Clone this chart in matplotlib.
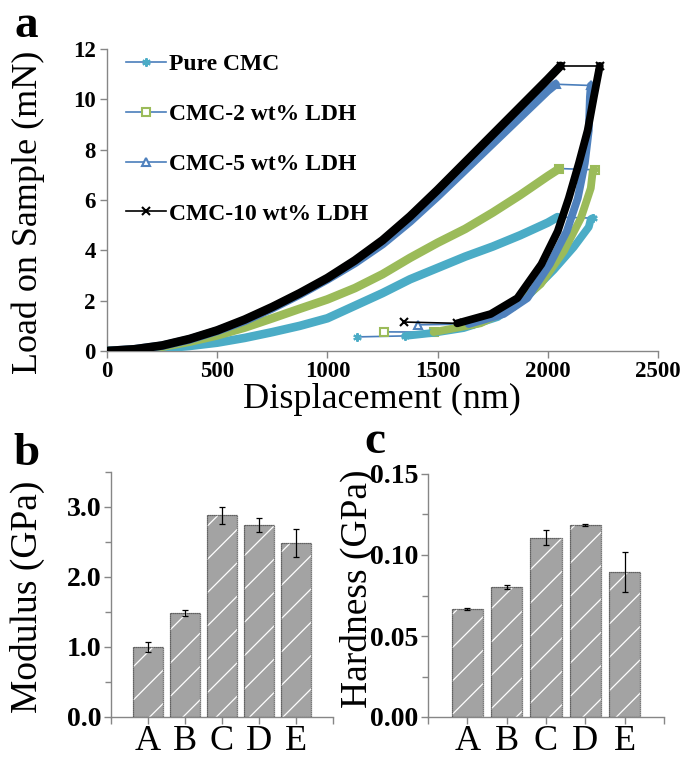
import matplotlib
matplotlib.use("Agg")
import matplotlib.pyplot as plt
from matplotlib.lines import Line2D
from matplotlib.ticker import MultipleLocator

plt.rcParams['font.family'] = ['Liberation Serif', 'DejaVu Serif']
plt.rcParams['hatch.linewidth'] = 0.9

# ---- panel a: load / displacement curves (nm, mN) ----
pure_load_x = [0, 125, 250, 375, 500, 625, 750, 875, 1000, 1125, 1250, 1375, 1500, 1625, 1750, 1875, 2000, 2044]
pure_load_y = [0, 0.03, 0.1, 0.2, 0.33, 0.52, 0.75, 1.0, 1.3, 1.8, 2.3, 2.85, 3.3, 3.75, 4.15, 4.6, 5.1, 5.32]
pure_unload_x = [2204, 2195, 2186, 2118, 2027, 1923, 1773, 1618, 1480, 1354]
pure_unload_y = [5.28, 5.24, 4.93, 4.13, 3.22, 2.3, 1.35, 0.91, 0.72, 0.6]
pure_tail_x = [1354, 1134]
pure_tail_y = [0.6, 0.56]

ldh2_load_x = [0, 125, 250, 375, 500, 625, 750, 875, 1000, 1125, 1250, 1375, 1500, 1625, 1750, 1875, 2000, 2053]
ldh2_load_y = [0, 0.05, 0.17, 0.37, 0.62, 0.93, 1.3, 1.68, 2.05, 2.5, 3.05, 3.7, 4.3, 4.85, 5.5, 6.2, 6.95, 7.25]
ldh2_unload_x = [2213, 2204, 2195, 2150, 2073, 1968, 1845, 1695, 1482]
ldh2_unload_y = [7.2, 7.15, 6.47, 5.28, 3.97, 2.66, 1.75, 1.1, 0.75]
ldh2_tail_x = [1482, 1257]
ldh2_tail_y = [0.75, 0.76]

ldh5_load_x = [0, 125, 250, 375, 500, 625, 750, 875, 1000, 1125, 1250, 1375, 1500, 1625, 1750, 1875, 2000, 2035]
ldh5_load_y = [0, 0.07, 0.21, 0.46, 0.8, 1.2, 1.7, 2.25, 2.85, 3.5, 4.25, 5.15, 6.15, 7.2, 8.25, 9.3, 10.35, 10.6]
ldh5_unload_x = [2195, 2191, 2186, 2168, 2136, 2086, 2009, 1907, 1800, 1641]
ldh5_unload_y = [10.55, 10.1, 8.77, 7.46, 6.07, 4.76, 3.45, 2.1, 1.47, 1.07]
ldh5_tail_x = [1641, 1413]
ldh5_tail_y = [1.07, 1.04]

ldh10_load_x = [0, 125, 250, 375, 500, 625, 750, 875, 1000, 1125, 1250, 1375, 1500, 1625, 1750, 1875, 2000, 2058]
ldh10_load_y = [0, 0.07, 0.22, 0.48, 0.82, 1.25, 1.75, 2.3, 2.9, 3.6, 4.4, 5.35, 6.4, 7.5, 8.6, 9.7, 10.8, 11.33]
ldh10_unload_x = [2236, 2209, 2181, 2141, 2095, 2045, 1971, 1862, 1741, 1589]
ldh10_unload_y = [11.33, 10.1, 8.77, 7.46, 6.07, 4.76, 3.45, 2.1, 1.47, 1.1]
ldh10_tail_x = [1589, 1349]
ldh10_tail_y = [1.1, 1.15]

series_labels = ["Pure CMC", "CMC-2 wt% LDH", "CMC-5 wt% LDH", "CMC-10 wt% LDH"]

# ---- panels b, c: bar data ----
samples = ["A", "B", "C", "D", "E"]
modulus = [1.0, 1.49, 2.88, 2.75, 2.48]
modulus_err = [0.07, 0.045, 0.12, 0.1, 0.2]
hardness = [0.0667, 0.0805, 0.1107, 0.1185, 0.0895]
hardness_err = [0.0005, 0.0012, 0.0046, 0.0005, 0.0123]

AXIS_GRAY = "#868686"
LINE_BLUE = "#4a7ebb"
C_PURE = "#4bacc6"
C_LDH2 = "#9bbb59"
C_LDH5 = "#4f81bd"
C_LDH10 = "#000000"

fig = plt.figure(figsize=(6.8, 7.58), dpi=100)
W, H = 680.0, 758.0


def px_axes(left, top, right, bottom):
    return fig.add_axes([left / W, 1 - bottom / H, (right - left) / W, (bottom - top) / H])


def style_axes(ax):
    for side in ("top", "right"):
        ax.spines[side].set_visible(False)
    for side in ("left", "bottom"):
        ax.spines[side].set_color(AXIS_GRAY)
        ax.spines[side].set_linewidth(1.0)
    ax.tick_params(which="both", direction="out", color=AXIS_GRAY, width=1.0)
    ax.tick_params(which="major", length=5)
    ax.tick_params(which="minor", length=4)


# ------------------------------ panel a
ax_a = px_axes(107, 49, 658, 351)
style_axes(ax_a)

curves = [
    (pure_load_x, pure_load_y, pure_unload_x, pure_unload_y, pure_tail_x, pure_tail_y, C_PURE, LINE_BLUE, (6, 2, 0)),
    (ldh2_load_x, ldh2_load_y, ldh2_unload_x, ldh2_unload_y, ldh2_tail_x, ldh2_tail_y, C_LDH2, LINE_BLUE, "s"),
    (ldh5_load_x, ldh5_load_y, ldh5_unload_x, ldh5_unload_y, ldh5_tail_x, ldh5_tail_y, C_LDH5, LINE_BLUE, "^"),
    (ldh10_load_x, ldh10_load_y, ldh10_unload_x, ldh10_unload_y, ldh10_tail_x, ldh10_tail_y, C_LDH10, C_LDH10, "x"),
]

for lx, ly, ux, uy, tx, ty, col, lcol, mk in curves:
    hollow = mk in ("s", "^")
    # thin tail back to the start of unloading
    ax_a.plot(tx, ty, color=lcol, lw=1.2, marker=mk, markersize=6,
              mfc="white" if hollow else col, mec=col, mew=1.5, zorder=2)
    # hold segment at peak load
    ax_a.plot([lx[-1], ux[0]], [ly[-1], uy[0]], color=lcol, lw=1.2, marker=mk,
              markersize=6, mfc="white" if hollow else col, mec=col, mew=1.5, zorder=2)
    # dense marker band for loading and unloading
    ax_a.plot(lx, ly, color=col, lw=6.2, solid_capstyle="round", solid_joinstyle="round", zorder=3)
    ax_a.plot(ux, uy, color=col, lw=5.6, solid_capstyle="round", solid_joinstyle="round", zorder=3)

ax_a.set_xlim(0, 2500)
ax_a.set_ylim(0, 12)
ax_a.xaxis.set_major_locator(MultipleLocator(500))
ax_a.yaxis.set_major_locator(MultipleLocator(2))
for lab in ax_a.get_xticklabels() + ax_a.get_yticklabels():
    lab.set_fontweight("bold")
    lab.set_fontsize(16.5)
ax_a.tick_params(axis="both", pad=3)
ax_a.tick_params(axis="x", pad=2)

handles = []
for lab, col, lcol, mk in zip(series_labels, [C_PURE, C_LDH2, C_LDH5, C_LDH10],
                              [LINE_BLUE, LINE_BLUE, LINE_BLUE, C_LDH10],
                              [(6, 2, 0), "s", "^", "x"]):
    hollow = mk in ("s", "^")
    handles.append(Line2D([], [], color=lcol, lw=1.2, marker=mk, markersize=6,
                          mfc="white" if hollow else col, mec=col, mew=1.5, label=lab))
ax_a.legend(handles=handles, loc="upper left", bbox_to_anchor=(0.035, 0.985),
            frameon=False, borderpad=0, borderaxespad=0, handlelength=1.7,
            handletextpad=0.1, labelspacing=1.2,
            prop={"family": "Liberation Serif", "weight": "bold", "size": 17})

fig.text(28 / W, 1 - 212 / H, "Load on Sample (mN)", rotation=90, fontsize=26,
         ha="center", va="center")
fig.text(382 / W, 1 - 399 / H, "Displacement (nm)", fontsize=26, ha="center", va="center")


# ------------------------------ panels b and c
def bar_panel(ax, values, errors):
    style_axes(ax)
    pos = list(range(1, len(samples) + 1))
    ax.bar(pos, values, width=0.8, color="#a3a3a3", edgecolor="white", hatch="/",
           linewidth=0, zorder=2)
    ax.bar(pos, values, width=0.8, fill=False, edgecolor="#4d4d4d", linewidth=0.9,
           linestyle=(0, (1, 0.6)), zorder=3)
    ax.errorbar(pos, values, yerr=errors, fmt="none", ecolor="black", elinewidth=0.9,
                capsize=2.2, capthick=0.9, zorder=4)
    ax.set_xlim(0, len(samples) + 1)
    ax.set_xticks(pos)
    ax.set_xticklabels(samples, fontsize=26)
    ax.set_xticks([0, len(samples) + 1], minor=True)
    ax.tick_params(axis="x", which="both", length=5, pad=1)
    ax.tick_params(axis="y", pad=2)
    for lab in ax.get_yticklabels():
        lab.set_fontweight("bold")
        lab.set_fontsize(20)


ax_b = px_axes(111, 472, 333, 717)
ax_b.set_ylim(0, 3.5)
ax_b.set_yticks([0, 1, 2, 3])
ax_b.set_yticklabels(["0.0", "1.0", "2.0", "3.0"])
ax_b.yaxis.set_minor_locator(MultipleLocator(0.5))
bar_panel(ax_b, modulus, modulus_err)

ax_c = px_axes(428, 474, 664, 717)
ax_c.set_ylim(0, 0.15)
ax_c.set_yticks([0, 0.05, 0.10, 0.15])
ax_c.set_yticklabels(["0.00", "0.05", "0.10", "0.15"])
ax_c.yaxis.set_minor_locator(MultipleLocator(0.025))
bar_panel(ax_c, hardness, hardness_err)

fig.text(27 / W, 1 - 597 / H, "Modulus (GPa)", rotation=90, fontsize=27, ha="center", va="center")
fig.text(357 / W, 1 - 589 / H, "Hardness (GPa)", rotation=90, fontsize=27, ha="center", va="center")

# panel letters
fig.text(15 / W, 1 - 37 / H, "a", fontsize=34, fontweight="bold", ha="left", va="baseline")
fig.text(13 / W, 1 - 465 / H, "b", fontsize=34, fontweight="bold", ha="left", va="baseline")
fig.text(364 / W, 1 - 453 / H, "c", fontsize=34, fontweight="bold", ha="left", va="baseline")

fig.savefig("out.png", dpi=100)
